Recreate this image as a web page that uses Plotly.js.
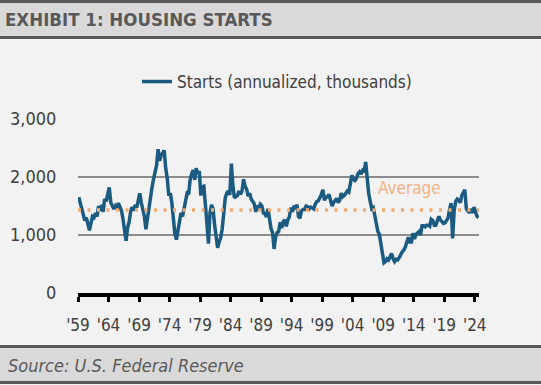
<!DOCTYPE html>
<html>
<head>
<meta charset="utf-8">
<script src="https://cdn.plot.ly/plotly-3.0.1.min.js"></script>
<style>
html,body{margin:0;padding:0;background:#f2f2f2;}
#chart{width:541px;height:385px;}
</style>
</head>
<body>
<div id="chart"></div>
<script>
// ---------- data ----------
const seriesName = 'Starts (annualized, thousands)';
const startYear = 1959;
// quarterly housing starts, thousands (SAAR), 1959Q1 .. 2024Q3
const starts = [
  1650,1560,1470,1380, // 1959
  1250,1300,1150,1080, // 1960
  1200,1320,1300,1380, // 1961
  1320,1500,1420,1520, // 1962
  1400,1620,1580,1700, // 1963
  1820,1560,1500,1450, // 1964
  1500,1460,1550,1480, // 1965
  1420,1280,1050,900,  // 1966
  1120,1220,1400,1480, // 1967
  1420,1520,1470,1620, // 1968
  1720,1560,1440,1320, // 1969
  1100,1300,1450,1680, // 1970
  1820,1960,2100,2200, // 1971
  2480,2280,2370,2420, // 1972
  2460,2150,1980,1680, // 1973
  1720,1560,1280,1020, // 1974
  920,1080,1250,1380,  // 1975
  1320,1450,1600,1720, // 1976
  1700,1950,2050,2120, // 1977
  1950,2150,2050,2100, // 1978
  1680,1830,1840,1580, // 1979
  1200,850,1380,1520,  // 1980
  1450,1180,960,780,   // 1981
  880,950,1100,1320,   // 1982
  1640,1720,1760,1690, // 1983
  2230,1860,1640,1660, // 1984
  1680,1760,1700,1760, // 1985
  1960,1840,1790,1670, // 1986
  1720,1620,1580,1540, // 1987
  1400,1500,1470,1530, // 1988
  1500,1380,1370,1310, // 1989
  1450,1220,1110,1040, // 1990
  760,960,1040,1060,   // 1991
  1220,1120,1230,1260, // 1992
  1150,1260,1310,1470, // 1993
  1400,1480,1470,1520, // 1994
  1320,1290,1420,1440, // 1995
  1440,1500,1490,1450, // 1996
  1480,1470,1450,1530, // 1997
  1580,1590,1640,1700, // 1998
  1780,1600,1650,1660, // 1999
  1700,1600,1500,1560, // 2000
  1610,1630,1560,1600, // 2001
  1720,1660,1680,1730, // 2002
  1760,1740,1890,2030, // 2003
  1960,1940,1980,2060, // 2004
  2090,2050,2110,2080, // 2005
  2260,1900,1720,1580, // 2006
  1450,1470,1310,1200, // 2007
  1060,1010,860,660,   // 2008
  520,540,590,570,     // 2009
  620,680,590,540,     // 2010
  580,570,610,670,     // 2011
  710,740,790,880,     // 2012
  960,880,880,1030,    // 2013
  930,1010,1030,1060,  // 2014
  1000,1160,1160,1140, // 2015
  1170,1170,1150,1270, // 2016
  1250,1170,1170,1260, // 2017
  1320,1260,1230,1200, // 2018
  1210,1260,1290,1440, // 2019
  1550,940,1420,1580,  // 2020
  1620,1600,1560,1680, // 2021
  1720,1780,1450,1400, // 2022
  1380,1450,1380,1480, // 2023
  1400,1320,1300       // 2024
];
const averageValue = 1430;
const averageLabel = 'Average';
const tickYears = [1959,1964,1969,1974,1979,1984,1989,1994,1999,2004,2009,2014,2019,2024];
const tickLabels = ["'59","'64","'69","'74","'79","'84","'89","'94","'99","'04","'09","'14","'19","'24"];
const yTicks = [0,1000,2000,3000];
const yTickLabels = ['0','1,000','2,000','3,000'];
const titleText = 'EXHIBIT 1: HOUSING STARTS';
const sourceText = 'Source: U.S. Federal Reserve';

// ---------- build ----------
const quarterMonths = ['02','05','08','11'];
const dates = starts.map((v,i) => `${startYear + Math.floor(i/4)}-${quarterMonths[i%4]}-15`);
const xStart = '1959-01-01', xEnd = '2024-09-10';

const FONT = '"DejaVu Sans Condensed", "Liberation Sans Narrow", sans-serif';
const W = 541, H = 385;
const M = {l:78, r:62, t:119, b:92};
const PW = W - M.l - M.r, PH = H - M.t - M.b;
const fx = px => (px - M.l) / PW;
const fy = py => (H - M.b - py) / PH;

const traces = [
  {
    x: dates, y: starts, type: 'scatter', mode: 'lines', name: seriesName,
    line: {color: '#1b5b82', width: 3.5}
  },
  {
    x: [xStart, xEnd], y: [averageValue, averageValue], type: 'scatter', mode: 'lines',
    showlegend: false, hoverinfo: 'skip',
    line: {color: '#f3aa70', width: 3.5, dash: '3px,6.5px'}
  }
];

const band = (y0, y1) => ({type:'rect', xref:'paper', yref:'paper', x0: fx(-2), x1: fx(W+2), y0: fy(y1), y1: fy(y0),
  fillcolor:'#d9d9d9', line:{width:0}, layer:'below'});
const hline = (py) => ({type:'line', xref:'paper', yref:'paper', x0: fx(-2), x1: fx(W+2), y0: fy(py), y1: fy(py),
  line:{color:'#595959', width:3}, layer:'below'});

const layout = {
  width: W, height: H,
  margin: M,
  paper_bgcolor: '#f2f2f2', plot_bgcolor: 'rgba(0,0,0,0)',
  font: {family: FONT, color: '#404040'},
  title: {
    text: '<b>' + titleText + '</b>',
    xref: 'container', yref: 'container', x: 5/W, xanchor: 'left', y: 1 - 20/H, yanchor: 'middle',
    font: {family: FONT, size: 18.5, color: '#595959'}
  },
  showlegend: true,
  legend: {
    orientation: 'h', x: fx(137), xanchor: 'left', y: fy(82), yanchor: 'middle',
    bgcolor: 'rgba(0,0,0,0)', font: {family: FONT, size: 17, color: '#404040'}
  },
  xaxis: {
    type: 'date', range: [xStart, xEnd],
    tickmode: 'array', tickvals: tickYears.map(y => `${y}-01-01`), ticktext: tickLabels,
    ticks: 'outside', ticklen: 5, tickwidth: 3, tickcolor: '#000',
    showline: true, linecolor: '#000', linewidth: 4,
    showgrid: false, zeroline: false,
    tickfont: {family: FONT, size: 17, color: '#404040'},
    ticklabelstandoff: 9, fixedrange: true
  },
  yaxis: {
    range: [0, 3000], tickmode: 'array', tickvals: yTicks, ticktext: yTickLabels,
    showgrid: true, gridcolor: '#8c8c8c', gridwidth: 1.5, zeroline: false, showline: false,
    ticks: 'outside', ticklen: 17, tickcolor: 'rgba(0,0,0,0)',
    tickfont: {family: FONT, size: 18, color: '#404040'}, fixedrange: true
  },
  shapes: [
    band(1, 38), hline(1.5), hline(37.5),
    band(346, 383), hline(346.5), hline(382.5)
  ],
  annotations: [
    {x: '2013-05-01', y: 1810, xref: 'x', yref: 'y', text: averageLabel, showarrow: false,
     font: {family: FONT, size: 17, color: '#f4b183'}},
    {x: fx(6), y: fy(365), xref: 'paper', yref: 'paper', xanchor: 'left', yanchor: 'middle',
     text: '<i>' + sourceText + '</i>', showarrow: false,
     font: {family: FONT, size: 18, color: '#595959'}}
  ]
};

Plotly.newPlot('chart', traces, layout, {displayModeBar: false, staticPlot: true});
</script>
</body>
</html>
